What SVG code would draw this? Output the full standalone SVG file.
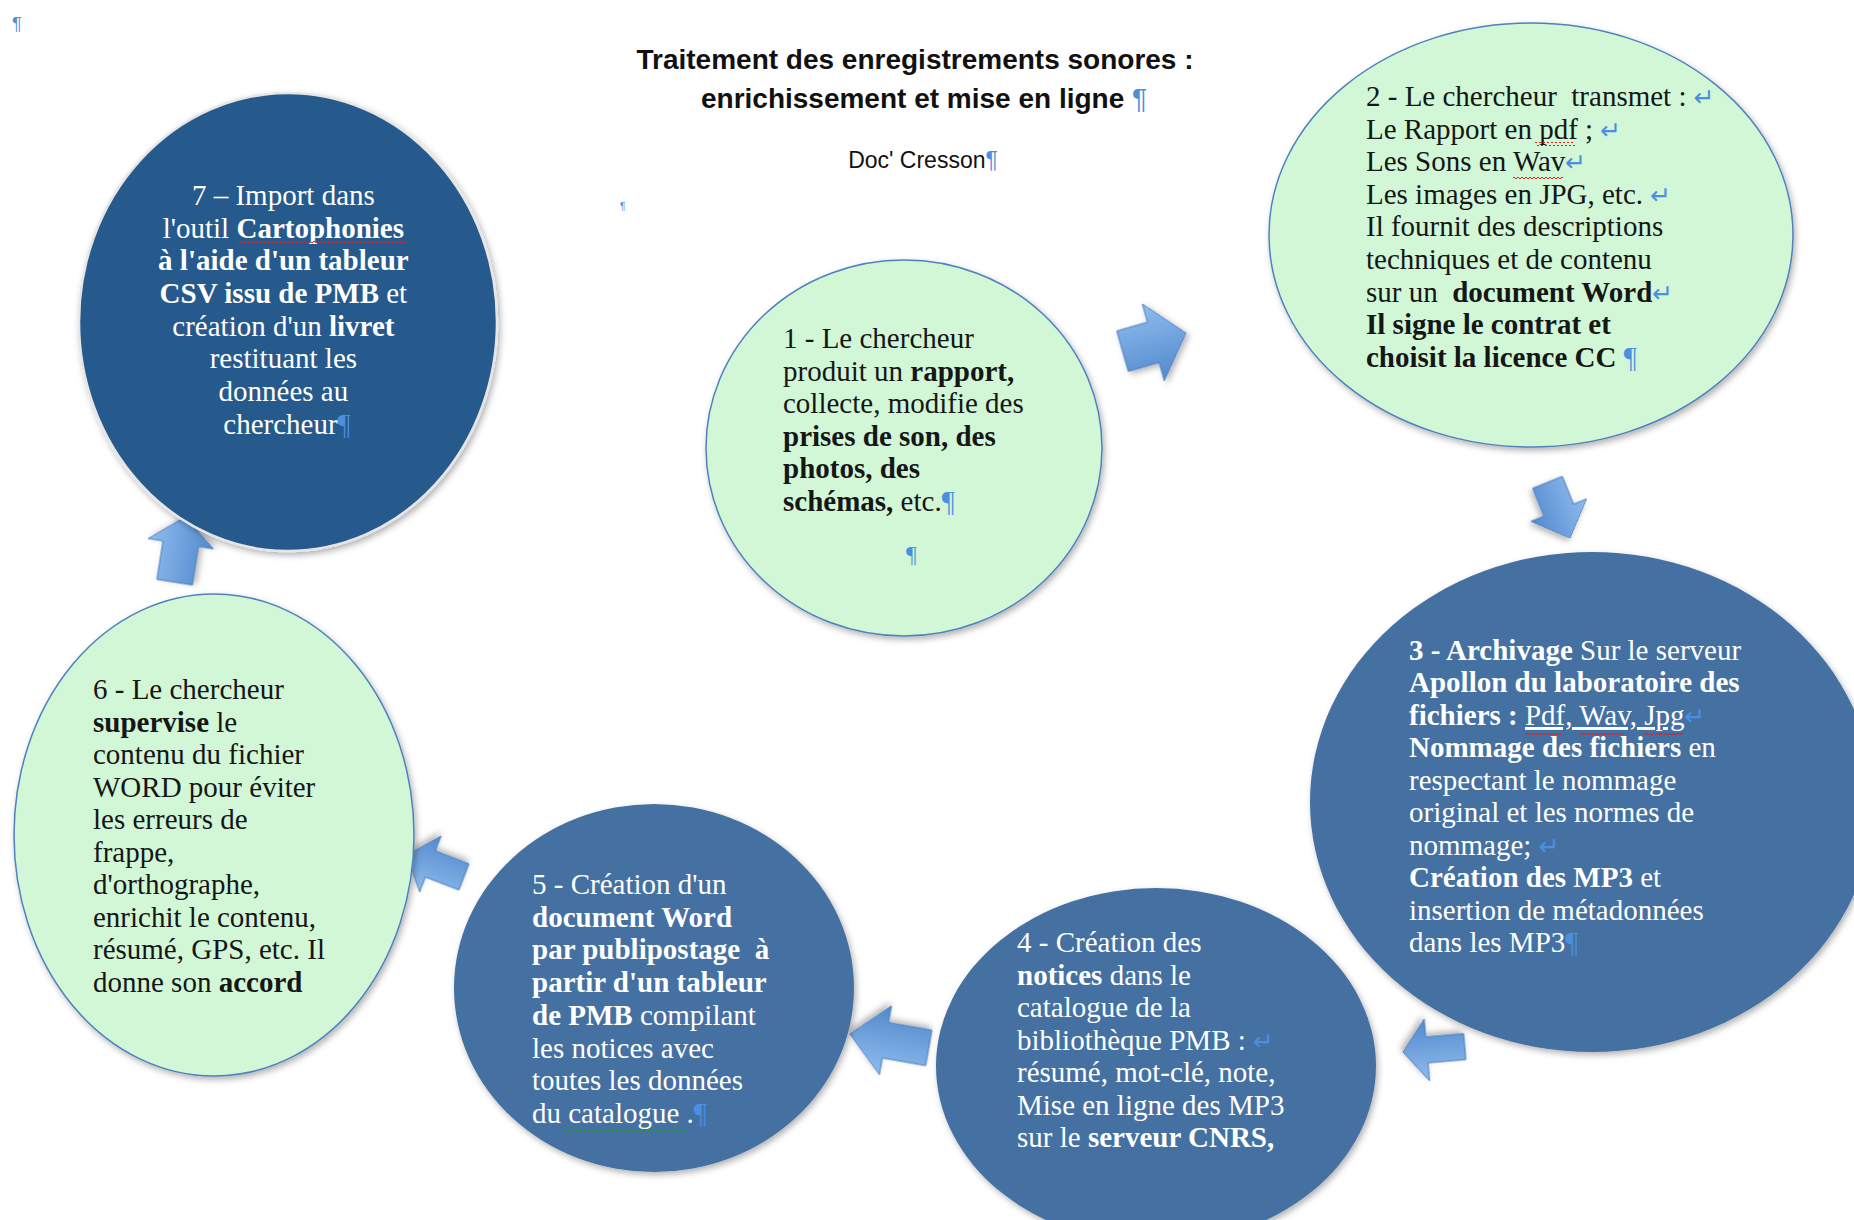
<svg xmlns="http://www.w3.org/2000/svg" width="1854" height="1220" viewBox="0 0 1854 1220">
<defs>
<style>
.t{font-family:"Liberation Serif","Times New Roman",serif;font-size:29px}
.dk{fill:#161616}
.wt{fill:#ffffff}
.b{font-weight:bold}
.fm{fill:#4a8fe0;font-family:"DejaVu Sans",sans-serif;font-size:25px;font-weight:normal}
.pm{fill:#4a8fe0;font-weight:normal}
.title{font-family:"Liberation Sans",Arial,sans-serif;font-size:28px;font-weight:bold;fill:#111}
.sub{font-family:"Liberation Sans",Arial,sans-serif;font-size:23px;fill:#111}
.lg{fill:#d1f7d7;stroke:#4f81bd;stroke-width:1.5}
.db{fill:#4571a2}
.dd{fill:#275a8d;stroke:#e6e6e6;stroke-width:2.5}
.arr{fill:url(#ag);stroke:#4f7fbf;stroke-width:1}
.ul{text-decoration:underline}
.wr{fill:url(#wavr)}
.wg{fill:url(#wavg)}
</style>
<linearGradient id="ag" x1="0" y1="0" x2="0" y2="1">
<stop offset="0" stop-color="#8fbcef"/>
<stop offset="1" stop-color="#5289cc"/>
</linearGradient>
<pattern id="wavr" width="4" height="4" patternUnits="userSpaceOnUse">
<path d="M0,3 L2,1 L4,3" fill="none" stroke="#e02020" stroke-width="1"/>
</pattern>
<pattern id="wavg" width="4" height="4" patternUnits="userSpaceOnUse">
<path d="M0,3 L2,1 L4,3" fill="none" stroke="#1f9a2a" stroke-width="1"/>
</pattern>
<filter id="sh" x="-10%" y="-10%" width="125%" height="125%">
<feDropShadow dx="2" dy="3" stdDeviation="3" flood-color="#000" flood-opacity="0.3"/>
</filter>
</defs>
<rect width="1854" height="1220" fill="#ffffff"/>

<g id="title">
<text class="title" x="915" y="69" text-anchor="middle">Traitement des enregistrements sonores :</text>
<text class="title" x="924" y="108" text-anchor="middle">enrichissement et mise en ligne <tspan class="pm">¶</tspan></text>
<text class="sub" x="923" y="168" text-anchor="middle">Doc' Cresson<tspan class="pm">¶</tspan></text>
<text class="sub" x="12" y="30" style="font-size:18px"><tspan class="pm">¶</tspan></text>
<text class="sub" x="620" y="210" style="font-size:10px"><tspan class="pm">¶</tspan></text>
</g>

<g id="connectors">
<g transform="translate(1186,333) rotate(-16)"><path class="arr" filter="url(#sh)" d="M0,0 L-34,-40 L-34,-21 L-66,-21 L-66,21 L-34,21 L-34,40 Z"/></g>
<g transform="translate(1570,538) rotate(68)"><path class="arr" filter="url(#sh)" d="M0,0 L-30,-30 L-30,-16 L-60,-16 L-60,16 L-30,16 L-30,30 Z"/></g>
<g transform="translate(1403,1052) rotate(175)"><path class="arr" filter="url(#sh)" d="M0,0 L-24,-31 L-24,-13 L-62,-13 L-62,13 L-24,13 L-24,31 Z"/></g>
<g transform="translate(850,1034) rotate(190)"><path class="arr" filter="url(#sh)" d="M0,0 L-36,-35 L-36,-18 L-80,-18 L-80,18 L-36,18 L-36,35 Z"/></g>
<g transform="translate(407,855) rotate(201)"><path class="arr" filter="url(#sh)" d="M0,0 L-25,-30 L-25,-14 L-61,-14 L-61,14 L-25,14 L-25,30 Z"/></g>
<g transform="translate(185,517) rotate(-81)"><path class="arr" filter="url(#sh)" d="M0,0 L-27,-33 L-27,-18 L-66,-18 L-66,18 L-27,18 L-27,33 Z"/></g>
</g>

<g id="node7">
<ellipse class="dd" filter="url(#sh)" cx="288" cy="322" rx="209" ry="229"/>
<text class="t wt" text-anchor="middle">
<tspan x="287" y="205">7 – Import dans</tspan>
<tspan x="287" y="238">l'outil <tspan class="b">Cartophonies</tspan></tspan>
<tspan x="287" y="270" class="b">à l'aide d'un tableur</tspan>
<tspan x="287" y="303"><tspan class="b">CSV issu de PMB</tspan> et</tspan>
<tspan x="287" y="336">création d'un <tspan class="b">livret</tspan></tspan>
<tspan x="287" y="368">restituant les</tspan>
<tspan x="287" y="401">données au</tspan>
<tspan x="287" y="434">chercheur<tspan class="pm">¶</tspan></tspan>
</text>
<rect class="wr" x="237" y="241" width="168" height="4"/>
</g>

<g id="node1">
<ellipse class="lg" filter="url(#sh)" cx="904" cy="448" rx="198" ry="188"/>
<text class="t dk">
<tspan x="783" y="348">1 - Le chercheur</tspan>
<tspan x="783" y="381">produit un <tspan class="b">rapport,</tspan></tspan>
<tspan x="783" y="413">collecte, modifie des</tspan>
<tspan x="783" y="446" class="b">prises de son, des</tspan>
<tspan x="783" y="478" class="b">photos, des</tspan>
<tspan x="783" y="511"><tspan class="b">schémas,</tspan> etc.<tspan class="pm">¶</tspan></tspan>
<tspan x="906" y="562" class="pm" style="font-size:24px">¶</tspan>
</text>
</g>

<g id="node2">
<ellipse class="lg" filter="url(#sh)" cx="1531" cy="235" rx="262" ry="212"/>
<text class="t dk">
<tspan x="1366" y="106">2 - Le chercheur &#160;transmet : <tspan class="fm">↵</tspan></tspan>
<tspan x="1366" y="139">Le Rapport en pdf ; <tspan class="fm">↵</tspan></tspan>
<tspan x="1366" y="171">Les Sons en Wav<tspan class="fm">↵</tspan></tspan>
<tspan x="1366" y="204">Les images en JPG, etc. <tspan class="fm">↵</tspan></tspan>
<tspan x="1366" y="236">Il fournit des descriptions</tspan>
<tspan x="1366" y="269">techniques et de contenu</tspan>
<tspan x="1366" y="302">sur un &#160;<tspan class="b">document Word</tspan><tspan class="fm">↵</tspan></tspan>
<tspan x="1366" y="334" class="b">Il signe le contrat et</tspan>
<tspan x="1366" y="367"><tspan class="b">choisit la licence CC</tspan> <tspan class="pm">¶</tspan></tspan>
</text>
<rect class="wr" x="1535" y="142" width="40" height="4"/>
<rect class="wr" x="1513" y="175" width="50" height="4"/>
</g>

<g id="node3">
<ellipse class="db" filter="url(#sh)" cx="1592" cy="802" rx="282" ry="250"/>
<text class="t wt">
<tspan x="1409" y="660"><tspan class="b">3 - Archivage</tspan> Sur le serveur</tspan>
<tspan x="1409" y="692" class="b">Apollon du laboratoire des</tspan>
<tspan x="1409" y="725"><tspan class="b">fichiers :</tspan> <tspan class="ul">Pdf, Wav, Jpg</tspan><tspan class="fm">↵</tspan></tspan>
<tspan x="1409" y="757"><tspan class="b">Nommage des fichiers</tspan> en</tspan>
<tspan x="1409" y="790">respectant le nommage</tspan>
<tspan x="1409" y="822">original et les normes de</tspan>
<tspan x="1409" y="855">nommage; <tspan class="fm">↵</tspan></tspan>
<tspan x="1409" y="887"><tspan class="b">Création des MP3</tspan> et</tspan>
<tspan x="1409" y="920">insertion de métadonnées</tspan>
<tspan x="1409" y="952">dans les MP3<tspan class="pm">¶</tspan></tspan>
</text>
<rect class="wr" x="1525" y="731" width="36" height="4"/>
<rect class="wr" x="1579" y="731" width="44" height="4"/>
<rect class="wr" x="1643" y="731" width="40" height="4"/>
</g>

<g id="node4">
<ellipse class="db" filter="url(#sh)" cx="1156" cy="1066" rx="220" ry="178"/>
<text class="t wt">
<tspan x="1017" y="952">4 - Création des</tspan>
<tspan x="1017" y="985"><tspan class="b">notices</tspan> dans le</tspan>
<tspan x="1017" y="1017">catalogue de la</tspan>
<tspan x="1017" y="1050">bibliothèque PMB : <tspan class="fm">↵</tspan></tspan>
<tspan x="1017" y="1082">résumé, mot-clé, note,</tspan>
<tspan x="1017" y="1115">Mise en ligne des MP3</tspan>
<tspan x="1017" y="1147">sur le <tspan class="b">serveur CNRS,</tspan></tspan>
</text>
</g>

<g id="node5">
<ellipse class="db" filter="url(#sh)" cx="654" cy="988" rx="200" ry="184"/>
<text class="t wt">
<tspan x="532" y="894">5 - Création d'un</tspan>
<tspan x="532" y="927" class="b">document Word</tspan>
<tspan x="532" y="959" class="b">par publipostage &#160;à</tspan>
<tspan x="532" y="992" class="b">partir d'un tableur</tspan>
<tspan x="532" y="1025"><tspan class="b">de PMB</tspan> compilant</tspan>
<tspan x="532" y="1058">les notices avec</tspan>
<tspan x="532" y="1090">toutes les données</tspan>
<tspan x="532" y="1123">du catalogue .<tspan class="pm">¶</tspan></tspan>
</text>
<rect class="wg" x="563" y="1129" width="124" height="4"/>
</g>

<g id="node6">
<ellipse class="lg" filter="url(#sh)" cx="214" cy="835" rx="200" ry="241"/>
<text class="t dk">
<tspan x="93" y="699">6 - Le chercheur</tspan>
<tspan x="93" y="732"><tspan class="b">supervise</tspan> le</tspan>
<tspan x="93" y="764">contenu du fichier</tspan>
<tspan x="93" y="797">WORD pour éviter</tspan>
<tspan x="93" y="829">les erreurs de</tspan>
<tspan x="93" y="862">frappe,</tspan>
<tspan x="93" y="894">d'orthographe,</tspan>
<tspan x="93" y="927">enrichit le contenu,</tspan>
<tspan x="93" y="959">résumé, GPS, etc. Il</tspan>
<tspan x="93" y="992">donne son <tspan class="b">accord</tspan></tspan>
</text>
</g>
</svg>
